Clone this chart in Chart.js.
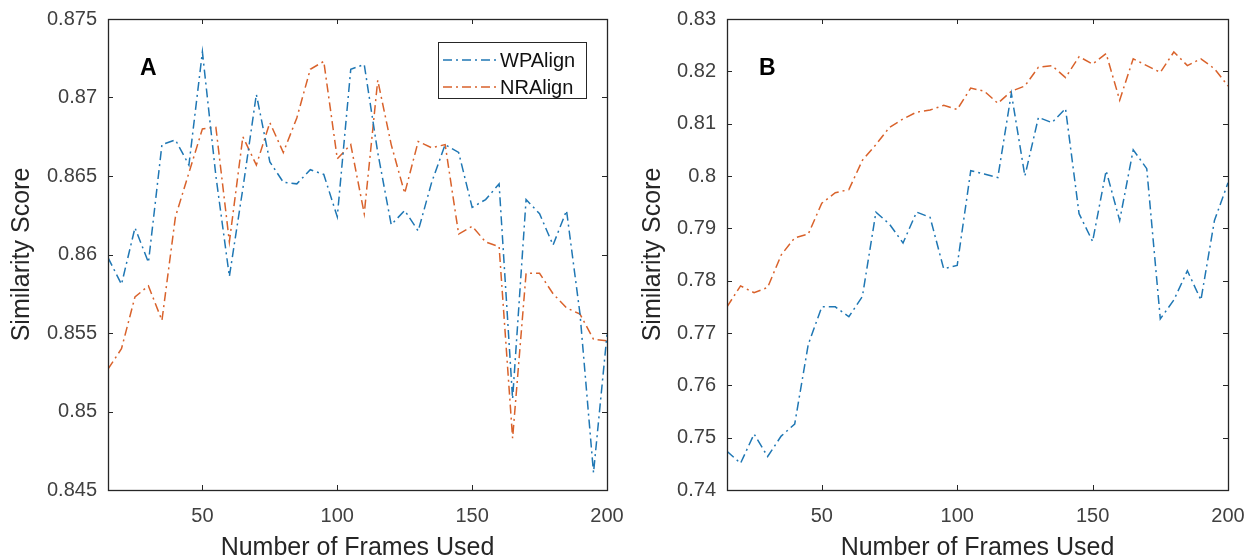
<!DOCTYPE html>
<html>
<head>
<meta charset="utf-8">
<script src="https://cdn.jsdelivr.net/npm/chart.js@4.4.1/dist/chart.umd.min.js"></script>
<style>
  body { margin: 0; background: #fff; width: 1247px; height: 558px; overflow: hidden; position: relative; }
  canvas { position: absolute; top: 0; }
</style>
</head>
<body>
<canvas id="chartA" width="627" height="558" style="left:0px"></canvas>
<canvas id="chartB" width="620" height="558" style="left:627px"></canvas>
<script>
// frames used (x) for both panels
const frames = [15, 20, 25, 30, 35, 40, 45, 50, 55, 60, 65, 70, 75, 80, 85, 90, 95, 100, 105, 110,
                115, 120, 125, 130, 135, 140, 145, 150, 155, 160, 165, 170, 175, 180, 185, 190, 195, 200];

// panel A
const wpAlignA = [0.8598, 0.8581, 0.8617, 0.8595, 0.8670, 0.8673, 0.8657, 0.8729, 0.8650, 0.8586,
                  0.8642, 0.8702, 0.8659, 0.8646, 0.8645, 0.8654, 0.8651, 0.8624, 0.8718, 0.8721,
                  0.8665, 0.8619, 0.8628, 0.8615, 0.8646, 0.8670, 0.8665, 0.8630, 0.8635, 0.8645,
                  0.8508, 0.8635, 0.8626, 0.8606, 0.8628, 0.8562, 0.8461, 0.8549];
const nrAlignA = [0.8527, 0.8540, 0.8573, 0.8580, 0.8558, 0.8624, 0.8652, 0.8680, 0.8681, 0.8608,
                  0.8675, 0.8657, 0.8684, 0.8665, 0.8687, 0.8718, 0.8723, 0.8661, 0.8670, 0.8626,
                  0.8711, 0.8670, 0.8639, 0.8672, 0.8668, 0.8670, 0.8613, 0.8618, 0.8608, 0.8605,
                  0.8483, 0.8588, 0.8588, 0.8575, 0.8566, 0.8562, 0.8546, 0.8545];

// panel B
const wpAlignB = [0.7474, 0.7451, 0.7507, 0.7464, 0.7503, 0.7526, 0.7678, 0.7750, 0.7750, 0.7731,
                  0.7770, 0.7931, 0.7908, 0.7872, 0.7931, 0.7921, 0.7823, 0.7829, 0.8010, 0.8004,
                  0.7997, 0.8158, 0.8000, 0.8112, 0.8102, 0.8129, 0.7928, 0.7875, 0.8010, 0.7915,
                  0.8050, 0.8014, 0.7727, 0.7763, 0.7819, 0.7763, 0.7915, 0.7987];
const nrAlignB = [0.7750, 0.7790, 0.7777, 0.7787, 0.7849, 0.7882, 0.7889, 0.7948, 0.7968, 0.7974,
                  0.8030, 0.8060, 0.8093, 0.8109, 0.8122, 0.8126, 0.8135, 0.8127, 0.8168, 0.8162,
                  0.8139, 0.8162, 0.8172, 0.8208, 0.8211, 0.8188, 0.8228, 0.8214, 0.8234, 0.8145,
                  0.8224, 0.8211, 0.8198, 0.8237, 0.8211, 0.8224, 0.8205, 0.8172];

const xTicks = [50, 100, 150, 200];
const yTicksA = [0.845, 0.85, 0.855, 0.86, 0.865, 0.87, 0.875];
const yTicksB = [0.74, 0.75, 0.76, 0.77, 0.78, 0.79, 0.8, 0.81, 0.82, 0.83];

const seriesNames = ['WPAlign', 'NRAlign'];
const seriesColors = ['#1f77b4', '#d9622b'];

const FONT = "'Liberation Sans', Arial, Helvetica, sans-serif";
const dashDot = [9, 4, 2, 4];

// box around the axes with inward ticks on all four sides, panel letter, legend
const matlabBox = {
    id: 'matlabBox',
    afterDatasetsDraw(chart, args, opts) {
        const { ctx, chartArea: a, scales } = chart;
        ctx.save();
        ctx.strokeStyle = '#262626';
        ctx.lineWidth = 1;
        ctx.beginPath();
        scales.x.ticks.forEach(t => {
            const px = Math.round(scales.x.getPixelForValue(t.value)) + 0.5;
            ctx.moveTo(px, a.bottom); ctx.lineTo(px, a.bottom - 5);
            ctx.moveTo(px, a.top); ctx.lineTo(px, a.top + 5);
        });
        scales.y.ticks.forEach(t => {
            const py = Math.round(scales.y.getPixelForValue(t.value)) + 0.5;
            ctx.moveTo(a.left, py); ctx.lineTo(a.left + 5, py);
            ctx.moveTo(a.right, py); ctx.lineTo(a.right - 5, py);
        });
        ctx.stroke();
        ctx.lineWidth = 1.3;
        ctx.strokeRect(Math.round(a.left) + 0.5, Math.round(a.top) + 0.5,
                       Math.round(a.right - a.left), Math.round(a.bottom - a.top));

        ctx.fillStyle = '#000';
        ctx.font = 'bold 23px ' + FONT;
        ctx.textBaseline = 'middle';
        ctx.textAlign = 'left';
        ctx.fillText(opts.letter, a.left + 32, a.top + 50);

        if (opts.legend) {
            const w = 148, h = 56;
            const lx = a.right - 21 - w, ly = a.top + 23;
            ctx.fillStyle = '#fff';
            ctx.fillRect(lx, ly, w, h);
            ctx.strokeStyle = '#262626';
            ctx.lineWidth = 1;
            ctx.strokeRect(lx + 0.5, ly + 0.5, w, h);
            chart.data.datasets.forEach((ds, i) => {
                const ry = ly + 18 + i * 27;
                ctx.strokeStyle = ds.borderColor;
                ctx.lineWidth = ds.borderWidth;
                ctx.setLineDash(ds.borderDash);
                ctx.beginPath();
                ctx.moveTo(lx + 5, ry);
                ctx.lineTo(lx + 59, ry);
                ctx.stroke();
                ctx.setLineDash([]);
                ctx.fillStyle = '#111';
                ctx.font = '20px ' + FONT;
                ctx.fillText(ds.label, lx + 62, ry + 1);
            });
        }
        ctx.restore();
    }
};

function makeDatasets(wp, nr) {
    return [wp, nr].map((vals, i) => ({
        label: seriesNames[i],
        data: frames.map((f, j) => ({ x: f, y: vals[j] })),
        borderColor: seriesColors[i],
        borderWidth: 1.5,
        borderDash: dashDot,
        pointRadius: 0,
        tension: 0,
        fill: false
    }));
}

function createPanel(canvasId, wp, nr, yTicks, letter, showLegend, yAxisWidth, titlePad) {
    const ctx = document.getElementById(canvasId).getContext('2d');
    return new Chart(ctx, {
        type: 'line',
        data: { datasets: makeDatasets(wp, nr) },
        plugins: [matlabBox],
        options: {
            responsive: false,
            animation: false,
            layout: { padding: { top: 19, right: canvasId === 'chartA' ? 20 : 19, left: 0, bottom: 0 } },
            plugins: {
                legend: { display: false },
                tooltip: { enabled: false },
                matlabBox: { letter: letter, legend: showLegend }
            },
            scales: {
                x: {
                    type: 'linear',
                    min: 15,
                    max: 200,
                    grid: { display: false, drawTicks: false },
                    border: { display: false },
                    afterBuildTicks: s => { s.ticks = xTicks.map(v => ({ value: v })); },
                    afterFit: s => { s.height = 68; s.paddingLeft = 0; s.paddingRight = 0; },
                    ticks: {
                        padding: 14,
                        color: '#404040',
                        font: { family: FONT, size: 20 },
                        maxRotation: 0,
                        callback: v => String(v)
                    },
                    title: {
                        display: true,
                        text: 'Number of Frames Used',
                        color: '#262626',
                        font: { family: FONT, size: 25, lineHeight: 0.8 },
                        padding: { top: 0, bottom: 0 }
                    }
                },
                y: {
                    min: yTicks[0],
                    max: yTicks[yTicks.length - 1],
                    grid: { display: false, drawTicks: false },
                    border: { display: false },
                    afterBuildTicks: s => { s.ticks = yTicks.map(v => ({ value: v })); },
                    afterFit: s => { s.width = yAxisWidth; s.paddingTop = 0; s.paddingBottom = 0; },
                    ticks: {
                        padding: 11,
                        color: '#404040',
                        font: { family: FONT, size: 20 },
                        callback: v => String(Number(v.toFixed(3)))
                    },
                    title: {
                        display: true,
                        text: 'Similarity Score',
                        color: '#262626',
                        font: { family: FONT, size: 25, lineHeight: 0.8 },
                        padding: { top: titlePad, bottom: 0 }
                    }
                }
            }
        }
    });
}

createPanel('chartA', wpAlignA, nrAlignA, yTicksA, 'A', true, 108, 12);
createPanel('chartB', wpAlignB, nrAlignB, yTicksB, 'B', false, 100, 16);
</script>
</body>
</html>
